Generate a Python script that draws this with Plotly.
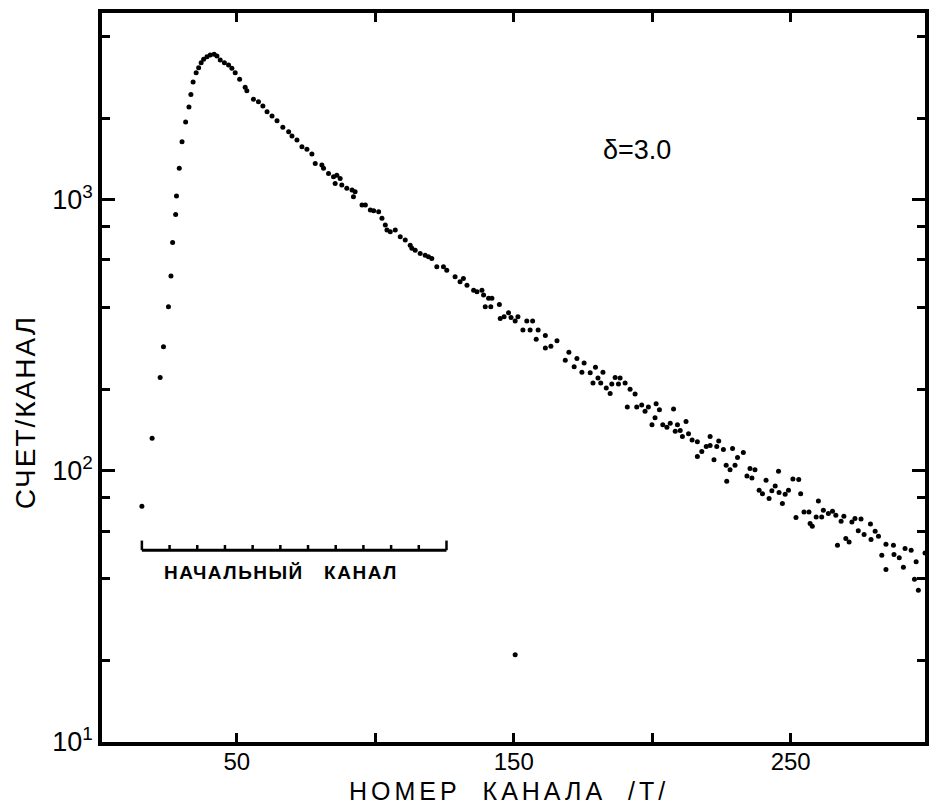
import plotly.graph_objects as go

# ---- data (channel number, counts per channel) ----
channels = [
    15.7, 19.4, 22.3, 23.5, 25.3, 26.2, 26.8, 27.9, 28.2, 29.2, 30.2, 31.5, 32.7, 33.4, 34.2,
    35.3, 36.2, 37.1, 38.0, 39.2, 40.4, 41.8, 42.8, 44.0, 45.5, 47.0, 48.2, 49.4, 51.0, 53.0,
    53.6, 56.0, 57.8, 59.4, 60.9, 62.7, 64.5, 66.6, 68.7, 69.9, 71.7, 73.5, 75.3, 77.1, 78.3,
    80.7, 81.3, 83.1, 84.9, 85.5, 86.1, 87.3, 87.9, 89.7, 91.6, 92.1, 92.7, 95.2, 96.4, 98.2,
    99.4, 101.2, 102.4, 103.6, 104.2, 105.4, 107.2, 109.0, 110.8, 112.6, 113.2, 114.4, 116.2, 118.0, 119.2,
    120.4, 122.2, 124.6, 125.8, 128.8, 130.6, 131.8, 133.1, 135.5, 136.7, 138.5, 139.1, 139.7, 140.9, 141.7,
    142.1, 144.8, 145.1, 146.5, 148.1, 149.0, 150.5, 150.5, 151.5, 153.3, 154.7, 155.9, 156.8, 158.1, 158.8,
    161.4, 161.4, 163.4, 165.6, 168.6, 169.9, 171.8, 172.8, 174.6, 175.4, 177.6, 178.6, 179.5, 180.4, 181.4,
    182.2, 183.4, 184.8, 185.4, 186.6, 187.8, 188.4, 190.2, 191.0, 192.0, 193.8, 194.4, 196.2, 197.4, 198.6,
    199.9, 201.0, 201.4, 202.6, 203.8, 205.3, 206.5, 207.7, 208.3, 209.1, 210.1, 210.9, 212.2, 213.1, 214.4,
    216.3, 216.3, 217.9, 219.5, 220.9, 220.9, 222.3, 223.3, 224.0, 225.7, 226.7, 226.9, 228.1, 229.0, 229.9,
    230.8, 232.9, 234.2, 235.3, 236.0, 237.1, 238.6, 239.8, 241.1, 242.2, 243.2, 244.4, 245.6, 245.8, 247.0,
    248.0, 249.2, 250.8, 251.9, 252.9, 253.6, 254.8, 256.6, 257.0, 257.8, 259.2, 260.0, 261.2, 261.8, 263.6,
    265.1, 266.3, 266.9, 268.2, 269.2, 269.9, 271.1, 272.1, 273.2, 274.4, 275.4, 276.5, 278.8, 279.0, 280.5,
    281.7, 282.9, 284.4, 284.4, 287.1, 287.3, 289.2, 290.7, 291.3, 293.5, 294.7, 295.3, 296.1, 298.5,
]
counts = [
    74, 132, 221, 287, 403, 523, 696, 883, 1032, 1306, 1637, 1935, 2199, 2448, 2719,
    2942, 3070, 3203, 3297, 3371, 3420, 3440, 3391, 3277, 3203, 3141, 3054, 2942, 2781, 2599,
    2525, 2347, 2299, 2217, 2112, 2037, 1957, 1850, 1782, 1718, 1661, 1569, 1535, 1474, 1362,
    1343, 1306, 1251, 1216, 1149, 1233, 1199, 1133, 1102, 1086, 1026, 1070, 956, 956, 916,
    911, 903, 854, 807, 773, 762, 773, 730, 710, 680, 662, 652, 634, 625, 616,
    608, 566, 566, 550, 520, 498, 513, 484, 464, 458, 464, 445, 403, 433, 403,
    433, 411, 365, 370, 383, 368, 357, 21, 370, 331, 357, 331, 357, 306, 331,
    316, 284, 288, 302, 256, 274, 242, 260, 231, 250, 230, 211, 241, 220, 211,
    231, 202, 193, 209, 221, 209, 220, 211, 172, 200, 192, 172, 175, 166, 172,
    148, 157, 177, 168, 148, 145, 150, 169, 140, 148, 141, 134, 152, 137, 130,
    128, 113, 118, 123, 134, 124, 110, 123, 129, 120, 105, 91.6, 101, 121, 105,
    112, 117, 95.8, 102, 94.2, 101, 84.9, 82.3, 92.4, 79.1, 84.4, 88.0, 99.7, 83.2, 75.8,
    82.0, 84.9, 93.4, 67.3, 92.9, 82.3, 70.6, 70.6, 64.0, 62.5, 67.6, 77.5, 67.6, 71.6, 69.6,
    71.0, 68.6, 53.2, 65.2, 68.0, 56.3, 54.7, 64.8, 66.7, 60.1, 66.5, 58.3, 63.7, 55.8, 59.9,
    57.4, 48.9, 53.6, 43.3, 53.2, 49.2, 47.8, 44.1, 51.7, 51.0, 39.8, 46.2, 36.3, 49.8,
]

x_label_vals = [50, 150, 250]
x_label_text = ["50", "150", "250"]
x_unlabeled_vals = [100, 200]
y_major_vals = [10, 100, 1000]
y_major_text = ["10<sup>1</sup>", "10<sup>2</sup>", "10<sup>3</sup>"]
y_minor_vals = [20, 40, 60, 80, 200, 400, 600, 800, 2000, 4000]

# "initial channel" bracket (channel span and count level)
bracket_start = 15.7
bracket_end = 125.7
bracket_level = 51
bracket_step = 10

FONT = "Liberation Sans, Arial, sans-serif"

fig = go.Figure()
fig.add_trace(go.Scatter(
    x=channels, y=counts, mode="markers",
    marker=dict(color="black", size=5),
    showlegend=False, cliponaxis=False, hoverinfo="skip",
))

# bracket: horizontal bar
fig.add_trace(go.Scatter(
    x=[bracket_start, bracket_end], y=[bracket_level, bracket_level],
    mode="lines", line=dict(color="black", width=3),
    showlegend=False, hoverinfo="skip",
))
# bracket: small upward ticks every 10 channels (ends taller)
n = int(round((bracket_end - bracket_start) / bracket_step))
tx, ty = [], []
for i in range(n + 1):
    xv = bracket_start + i * bracket_step
    up = 1.085 if i in (0, n) else 1.045
    tx += [xv, xv, None]
    ty += [bracket_level, bracket_level * up, None]
fig.add_trace(go.Scatter(
    x=tx, y=ty, mode="lines", line=dict(color="black", width=2.5),
    showlegend=False, hoverinfo="skip",
))

annotations = [
    dict(text='<span style="letter-spacing:4px">НОМЕР\u00a0\u00a0КАНАЛА\u00a0\u00a0/T/</span>',
         xref="paper", yref="paper",
         x=0.495, y=-0.067, xanchor="center", yanchor="middle", showarrow=False,
         font=dict(family=FONT, size=25, color="black")),
    dict(text='<span style="letter-spacing:2px">СЧЕТ/КАНАЛ</span>', xref="paper", yref="paper",
         x=-0.093, y=0.453,
         xanchor="center", yanchor="middle", textangle=-90, showarrow=False,
         font=dict(family=FONT, size=28, color="black")),
    dict(text="δ=3.0", xref="paper", yref="paper", x=0.650, y=0.812,
         xanchor="center", yanchor="middle", showarrow=False,
         font=dict(family=FONT, size=27, color="black")),
    dict(text='<span style="letter-spacing:1.5px"><b>НАЧАЛЬНЫЙ\u00a0\u00a0\u00a0КАНАЛ</b></span>',
         xref="paper", yref="paper",
         x=0.218, y=0.232, xanchor="center", yanchor="middle", showarrow=False,
         font=dict(family=FONT, size=19, color="black")),
]

fig.update_layout(
    width=929, height=806,
    margin=dict(l=102, r=4, t=13, b=64, autoexpand=False),
    paper_bgcolor="white", plot_bgcolor="white",
    font=dict(family=FONT, color="black"),
    annotations=annotations,
    xaxis=dict(
        range=[1.3, 298.5], showline=True, linecolor="black", linewidth=3.5,
        mirror="ticks", ticks="inside", ticklen=9, tickwidth=2.5, tickcolor="black",
        tickmode="array", tickvals=x_label_vals, ticktext=x_label_text,
        tickfont=dict(family=FONT, size=24, color="black"),
        ticklabelstandoff=-5,
        showgrid=False, zeroline=False, automargin=False,
        minor=dict(tickmode="array", tickvals=x_unlabeled_vals, ticks="inside",
                   ticklen=9, tickwidth=2.5, tickcolor="black", showgrid=False),
    ),
    yaxis=dict(
        type="log", range=[1, 3.689], showline=True, linecolor="black", linewidth=3.5,
        mirror="ticks", ticks="inside", ticklen=13, tickwidth=3, tickcolor="black",
        tickmode="array", tickvals=y_major_vals, ticktext=y_major_text,
        tickfont=dict(family=FONT, size=27, color="black"),
        showgrid=False, zeroline=False, automargin=False,
        minor=dict(tickmode="array", tickvals=y_minor_vals, ticks="inside",
                   ticklen=8, tickwidth=2.5, tickcolor="black", showgrid=False),
    ),
)

fig.write_html("out.html", config={"displayModeBar": False},
               post_script="document.body.style.margin='0';")
